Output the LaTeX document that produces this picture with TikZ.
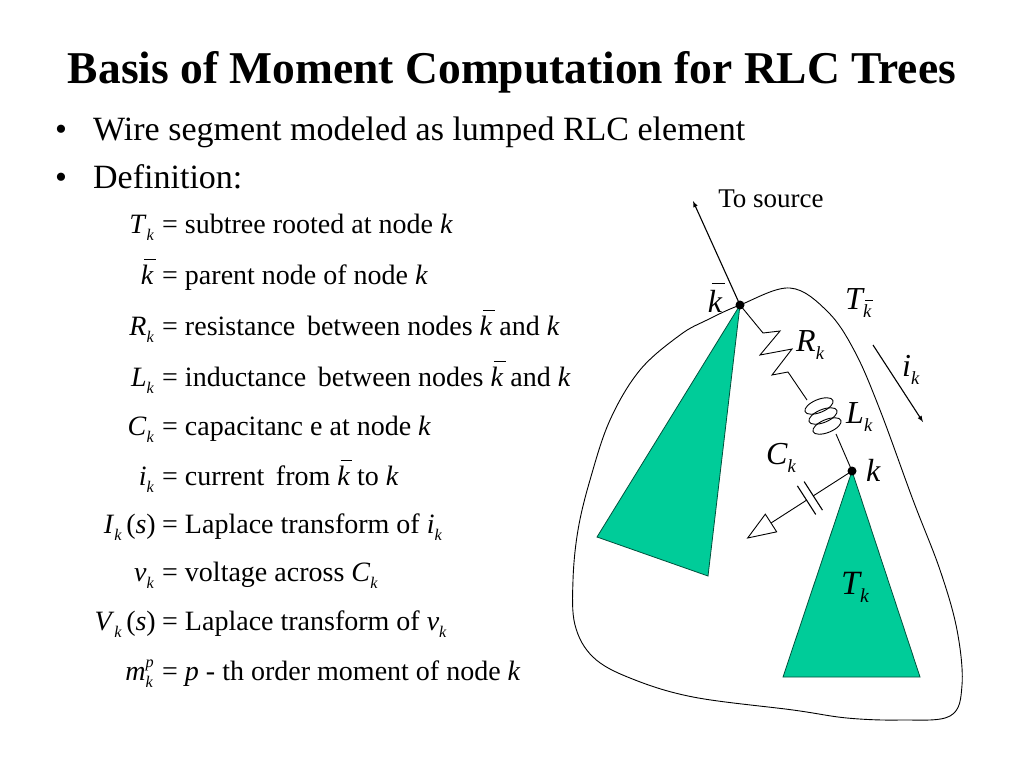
\documentclass[tikz,border=0pt]{standalone}
\usepackage{graphicx}
\usepackage{fontspec}
\setmainfont{Liberation Serif}
\usetikzlibrary{calc}
\definecolor{treegreen}{RGB}{0,204,153}
\newcommand\sbs[1]{\raisebox{-0.25em}{\scalebox{0.58}{\itshape #1}}}
\newcommand\sps[1]{\raisebox{0.45em}{\scalebox{0.58}{\itshape #1}}}
\newcommand\kbar{\makebox[0pt][l]{\hspace{0.12em}\raisebox{0.86em}{\rule{0.42em}{0.045em}}}\textit{k}}
\newcommand\var[2]{\textit{#1}\sbs{#2}}
\begin{document}
\begin{tikzpicture}
    [
    x=1pt,y=-1pt,
    dot/.style={circle,fill,inner sep=0pt,minimum size=9pt},
    subtree/.style={draw=black!60!treegreen,fill=treegreen,line width=0.8pt},
    lhs/.style={anchor=base east,inner sep=0pt,font=\fontsize{28}{28}\selectfont},
    rhs/.style={anchor=base west,inner sep=0pt,font=\fontsize{28}{28}\selectfont},
    bullet/.style={anchor=base west,inner sep=0pt,font=\fontsize{34}{34}\selectfont},
    lbl/.style={anchor=base west,inner sep=0pt,font=\fontsize{32}{32}\selectfont\itshape}
    ]
    \useasboundingbox (0,0) rectangle (1024,768);
    \fill [white] (0,0) rectangle (1024,768);
    \node (title) at (512,83) [anchor=base,inner sep=0pt,font=\fontsize{45.5}{45.5}\selectfont\bfseries] {Basis of Moment Computation for RLC Trees};
    \node (dot1) at (61,140) [bullet,anchor=base] {\textbullet};
    \node (wire) at (93,140) [bullet] {Wire segment modeled as lumped RLC element};
    \node (dot2) at (61,188) [bullet,anchor=base] {\textbullet};
    \node (defn) at (93,188) [bullet] {Definition:};
    % definitions
    \node (l1) at (154,233) [lhs] {\var{T}{k}};
    \node (r1) at (162,233) [rhs] {= subtree rooted at node \textit{k}};
    \node (l2) at (154,284) [lhs] {\kbar};
    \node (r2) at (162,284) [rhs] {= parent node of node \textit{k}};
    \node (l3) at (154,335) [lhs] {\var{R}{k}};
    \node (r3) at (162,335) [rhs] {= resistance\, between nodes \kbar\ and \textit{k}};
    \node (l4) at (154,386) [lhs] {\var{L}{k}};
    \node (r4) at (162,386) [rhs] {= inductance\, between nodes \kbar\ and \textit{k}};
    \node (l5) at (154,435) [lhs] {\var{C}{k}};
    \node (r5) at (162,435) [rhs] {= capacitanc e at node \textit{k}};
    \node (l6) at (154,485) [lhs] {\var{i}{k}};
    \node (r6) at (162,485) [rhs] {= current\, from \kbar\ to \textit{k}};
    \node (l7) at (156,533) [lhs] {\var{I}{k}\,(\textit{s})};
    \node (r7) at (162,533) [rhs] {= Laplace transform of \var{i}{k}};
    \node (l8) at (154,581) [lhs] {\var{v}{k}};
    \node (r8) at (162,581) [rhs] {= voltage across \var{C}{k}};
    \node (l9) at (156,630) [lhs] {\var{V}{k}\,(\textit{s})};
    \node (r9) at (162,630) [rhs] {= Laplace transform of \var{v}{k}};
    \node (l10) at (154,680) [lhs] {\textit{m}\rlap{\sbs{k}}\sps{p}};
    \node (r10) at (162,680) [rhs] {= \textit{p} - th order moment of node \textit{k}};
    % tree picture
    \coordinate (kb) at (740,305);
    \coordinate (k) at (852,471);
    \coordinate (src) at (693,201);
    \coordinate (R1) at (763,333);
    \coordinate (L1) at (807,400);
    \coordinate (L2) at (836,434);
    \coordinate (gnd) at (771,523);
    \coordinate (gtip) at ($(k)!124pt!(gnd)$);
    \coordinate (C1) at ($(k)!46pt!(gnd)$);
    \coordinate (C2) at ($(k)!54pt!(gnd)$);
    \coordinate (ia) at (873,345);
    \coordinate (ib) at (923,422);
    \filldraw [subtree] (kb) -- (597,537) -- (708,576) -- cycle;
    \filldraw [subtree] (k) -- (783,677) -- (920,677) -- cycle;
    \draw [line width=0.9pt] plot [smooth cycle,tension=0.6] coordinates {(740,305) (790,288) (828,312) (855,352) (880,410) (913,500) (940,570) (957,630) (962,685) (950,716) (900,720) (847,718) (793,710) (693,697) (630,678) (593,657) (575,625) (573,580) (578,530) (590,480) (610,420) (640,370) (680,335) (707,320)};
    \draw [-latex,line width=1.1pt] (kb) -- (src);
    \draw [line width=0.9pt] (kb) -- (R1) -- ++(17,-2) -- ++(-20,24) -- ++(32,-6) -- ++(-20,26) -- ++(16,-3) coordinate (R2) -- (L1);
    % inductor loops
    \draw [line width=0.9pt,rotate around={22:(819,406)}] (819,406) ellipse [x radius=15pt,y radius=6.5pt];
    \draw [line width=0.9pt,rotate around={22:(823,416)}] (823,416) ellipse [x radius=15pt,y radius=6.5pt];
    \draw [line width=0.9pt,rotate around={22:(827,426)}] (827,426) ellipse [x radius=15pt,y radius=6.5pt];
    \draw [line width=0.9pt] (L2) -- (k);
    \draw [line width=0.9pt] (k) -- (C1);
    \draw [line width=0.9pt] (C2) -- (gnd);
    \draw [line width=1.1pt] ($(C1)!17pt!90:(gnd)$) -- ($(C1)!17pt!-90:(gnd)$);
    \draw [line width=1.1pt] ($(C2)!17pt!90:(gnd)$) -- ($(C2)!17pt!-90:(gnd)$);
    \draw [line width=0.9pt,fill=white] ($(gnd)!10.5pt!90:(k)$) -- (gtip) -- ($(gnd)!10.5pt!-90:(k)$) -- cycle;
    \draw [-latex,line width=1.1pt] (ia) -- (ib);
    \node (kbdot) at (kb) [dot] {};
    \node (kdot) at (k) [dot] {};
    % labels
    \node (srclbl) at (771,207) [anchor=base,inner sep=0pt,font=\fontsize{27}{27}\selectfont] {To source};
    \node (kblbl) at (715,312) [lbl,anchor=base] {\kbar};
    \node (Tkblbl) at (845,309) [lbl] {T\sbs{\kbar}};
    \node (Rlbl) at (796,351) [lbl] {R\sbs{k}};
    \node (ilbl) at (902,376) [lbl] {i\sbs{k}};
    \node (Llbl) at (846,423) [lbl] {L\sbs{k}};
    \node (Clbl) at (766,464) [lbl] {C\sbs{k}};
    \node (klbl) at (866,481) [lbl] {k};
    \node (Tklbl) at (841,594) [lbl,font=\fontsize{34}{34}\selectfont\itshape] {T\sbs{k}};
\end{tikzpicture}
\end{document}
